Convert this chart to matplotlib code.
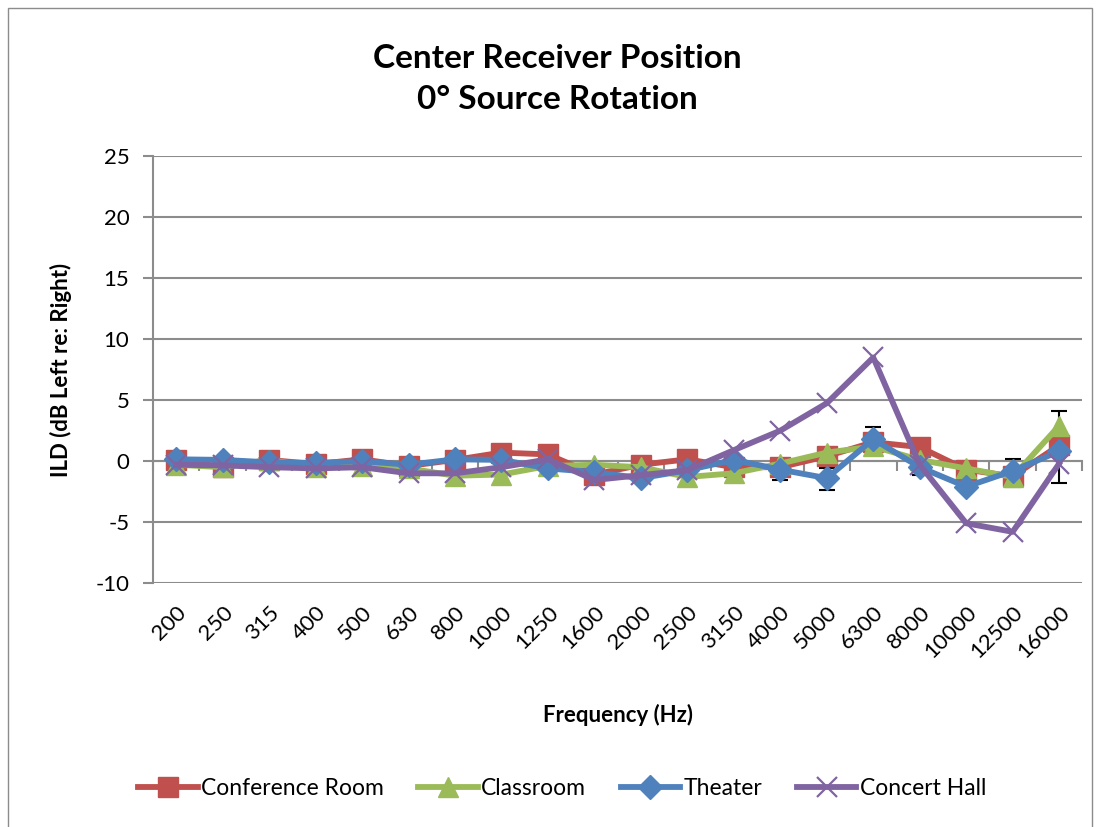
import matplotlib.pyplot as plt
import numpy as np
from matplotlib.patches import Rectangle

plt.rcParams['font.family'] = ['Lato', 'DejaVu Sans']
plt.rcParams['axes.unicode_minus'] = False

freqs = ['200', '250', '315', '400', '500', '630', '800', '1000', '1250', '1600',
         '2000', '2500', '3150', '4000', '5000', '6300', '8000', '10000', '12500', '16000']

conference = [0.1, -0.5, 0.1, -0.25, 0.15, -0.4, 0.1, 0.7, 0.55, -1.1,
              -0.3, 0.15, -0.5, -0.5, 0.4, 1.55, 1.15, -0.7, -1.25, 1.3]
classroom = [-0.3, -0.5, 0.1, -0.5, -0.4, -0.6, -1.2, -1.1, -0.4, -0.3,
             -0.5, -1.3, -1.0, -0.2, 0.7, 1.2, 0.1, -0.6, -1.3, 2.9]
theater = [0.15, 0.1, -0.1, -0.15, 0.0, -0.3, 0.15, 0.1, -0.6, -0.9,
           -1.4, -0.75, 0.1, -0.7, -1.4, 1.8, -0.5, -2.1, -0.8, 0.8]
concert = [-0.3, -0.35, -0.5, -0.6, -0.5, -1.0, -1.0, -0.5, 0.15, -1.55,
           -1.15, -0.75, 0.9, 2.5, 4.75, 8.5, -0.3, -5.1, -5.8, -0.2]

# error bars (only the visible ones, on Theater)
err_low = [0, 0, 0, 0, 0, 0, 0, 0, 0, 0, 0, 0, 0, 0.85, 1.0, 1.3, 0.65, 0, 1.3, 2.6]
err_high = [0, 0, 0, 0, 0, 0, 0, 0, 0, 0, 0, 0, 0, 0, 0.85, 1.0, 0, 0, 1.0, 3.3]

fig = plt.figure(figsize=(11, 8.27), dpi=100)
ax = fig.add_axes([0.139, 0.295, 0.845, 0.516])

x = np.arange(len(freqs))
lw = 4.2
ax.plot(x, conference, color='#C0504D', lw=lw, marker='s', ms=14, label='Conference Room', zorder=3)
ax.plot(x, classroom, color='#9BBB59', lw=lw, marker='^', ms=15, label='Classroom', zorder=4)
ax.plot(x, theater, color='#4F81BD', lw=lw, marker='D', ms=12, label='Theater', zorder=5)
ax.plot(x, concert, color='#8064A2', lw=lw, marker='x', ms=15, mew=1.6, label='Concert Hall', zorder=6)

lo = np.array(err_low)
hi = np.array(err_high)
m = (lo + hi) > 0
ax.errorbar(x[m], np.array(theater)[m], yerr=[lo[m], hi[m]], fmt='none',
            ecolor='black', elinewidth=1.5, capsize=6, capthick=1.5, zorder=2)

ax.set_ylim(-10, 25)
ax.set_yticks(range(-10, 30, 5))
ax.set_xlim(-0.5, len(freqs) - 0.5)
ax.yaxis.grid(True, color='#8C8C8C', lw=1.5)
ax.set_axisbelow(True)
for s in ['top', 'right']:
    ax.spines[s].set_visible(False)
ax.spines['left'].set_color('#8C8C8C')
ax.spines['left'].set_linewidth(1.5)
ax.spines['bottom'].set_position(('data', 0))
ax.spines['bottom'].set_color('#8C8C8C')
ax.spines['bottom'].set_linewidth(1.5)
ax.set_xticks(np.arange(-0.5, len(freqs), 1.0))
ax.tick_params(axis='x', length=7, width=1.5, color='#8C8C8C', labelbottom=False)
ax.tick_params(axis='y', length=7, width=1.5, color='#8C8C8C', labelsize=16, pad=10)

sec = ax.secondary_xaxis('bottom')
sec.set_xticks(x, freqs, rotation=45, ha='right', rotation_mode='anchor')
sec.tick_params(length=0, labelsize=16, pad=14)
sec.spines['bottom'].set_visible(False)
sec.set_xlabel('Frequency (Hz)', fontsize=16, fontweight='bold', labelpad=30)

ax.set_ylabel('ILD (dB Left re: Right)', fontsize=16, fontweight='bold', labelpad=17)
fig.text(0.507, 0.905, 'Center Receiver Position\n0° Source Rotation', fontsize=24,
         fontweight='bold', ha='center', va='center', linespacing=1.5)

fig.legend(loc='center', bbox_to_anchor=(0.511, 0.046), ncol=4, frameon=False,
           fontsize=16.5, handlelength=2.6, columnspacing=1.5, handletextpad=0.15)

fig.patches.append(Rectangle((0.007, -0.01), 0.986, 1.0, transform=fig.transFigure,
                             fill=False, edgecolor='#8C8C8C', lw=1))

fig.savefig('out.png', dpi=100)
